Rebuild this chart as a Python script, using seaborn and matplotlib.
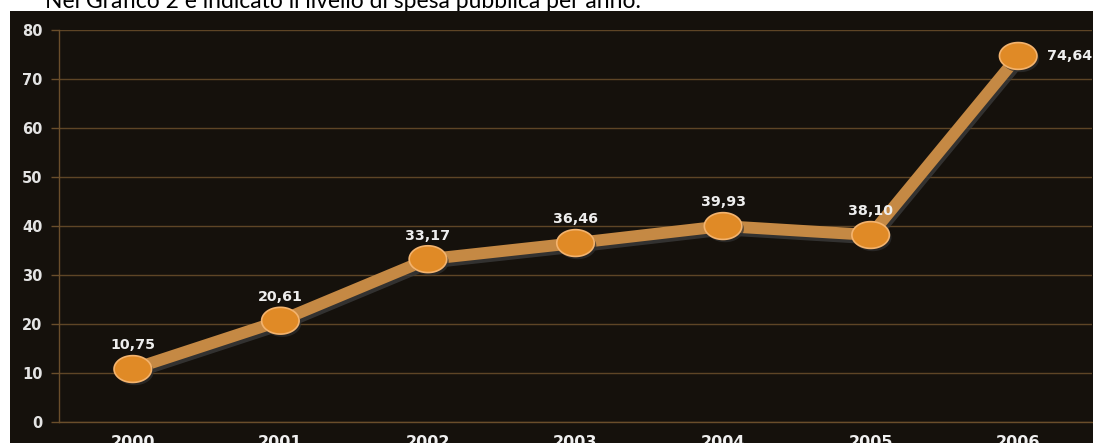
import numpy as np
import pandas as pd
import seaborn as sns
import matplotlib
matplotlib.use("Agg")
import matplotlib.pyplot as plt
from matplotlib.path import Path
from matplotlib.patches import Rectangle
import matplotlib.patheffects as pe

# ---- data ----
years = ["2000", "2001", "2002", "2003", "2004", "2005", "2006"]
values = [10.75, 20.61, 33.17, 36.46, 39.93, 38.10, 74.64]
value_labels = ["10,75", "20,61", "33,17", "36,46", "39,93", "38,10", "74,64"]
y_ticks = [0, 10, 20, 30, 40, 50, 60, 70, 80]
caption = "Nel Grafico 2 è indicato il livello di spesa pubblica per anno."

sns.set_style("dark")
plt.rcParams['font.family'] = ['DejaVu Sans']

W, H = 1093, 443
bg = '#15110c'
brown = '#6a4e2b'
fig = plt.figure(figsize=(W / 100, H / 100), dpi=100, facecolor='white')
fig.patches.append(Rectangle((10 / W, 0), 1, (H - 11) / H, transform=fig.transFigure,
                             facecolor=bg, edgecolor='none', zorder=-5))
fig.text(45 / W, (H - 7.5) / H, caption, fontsize=16.5, family='Lato',
         va='baseline', ha='left', color='black', zorder=-6)

ax = fig.add_axes([59 / W, (H - 421.7) / H, (1092 - 59) / W, (421.7 - 29.7) / H])
ax.set_facecolor(bg)

df = pd.DataFrame({"x": np.arange(len(years)), "value": values})
sns.lineplot(data=df, x="x", y="value", ax=ax, color='#c58944', lw=8.5,
             solid_capstyle='round', zorder=3,
             path_effects=[pe.SimpleLineShadow(offset=(1.5, -2.5), shadow_color='#3a3a3a', alpha=0.8),
                           pe.Normal()])

theta = np.linspace(0, 2 * np.pi, 80)
ell = Path(np.column_stack([1.4 * np.cos(theta), np.sin(theta)]), closed=True)
ax.plot(df["x"], df["value"], ls='none', marker=ell, ms=27, mfc='#e08a26',
        mec='#f3b36e', mew=1.2, zorder=4,
        path_effects=[pe.SimplePatchShadow(offset=(1.5, -2), shadow_rgbFace='#303030', alpha=0.7),
                      pe.Normal()])

for i, (v, lbl) in enumerate(zip(values, value_labels)):
    if i == len(values) - 1:
        ax.annotate(lbl, (i, v), xytext=(21, 0), textcoords='offset points',
                    ha='left', va='center', color='#eeeeee', fontsize=10.3,
                    fontweight='bold', annotation_clip=False, zorder=5)
    else:
        ax.annotate(lbl, (i, v), xytext=(0, 17), textcoords='offset points',
                    ha='center', va='center', color='#eeeeee', fontsize=10.3,
                    fontweight='bold', zorder=5)

ax.set_xlim(-0.5, 6.5)
ax.set_ylim(0, 80)
ax.set_yticks(y_ticks)
ax.set_yticklabels([str(t) for t in y_ticks], fontweight='bold', fontsize=10.5, color='#e4e4e4')
ax.set_xticks(range(len(years)))
ax.set_xticklabels(years, fontweight='bold', fontsize=11.5, color='#f0f0f0')
ax.set_xticks(np.arange(0.5, 6.6, 1.0), minor=True)
ax.tick_params(axis='x', which='major', length=0, pad=9.5)
ax.tick_params(axis='x', which='minor', length=4, color=brown, width=1, direction='out')
ax.tick_params(axis='y', which='major', length=6, color=brown, width=1, pad=6, left=True)
ax.set_xlabel("")
ax.set_ylabel("")

ax.yaxis.grid(True, color='#5e4526', lw=1)
ax.xaxis.grid(False)
for s in ['top', 'right']:
    ax.spines[s].set_visible(False)
for s in ['left', 'bottom']:
    ax.spines[s].set_visible(True)
    ax.spines[s].set_color(brown)
    ax.spines[s].set_linewidth(1)

fig.savefig("out.png", dpi=100, facecolor='white')
